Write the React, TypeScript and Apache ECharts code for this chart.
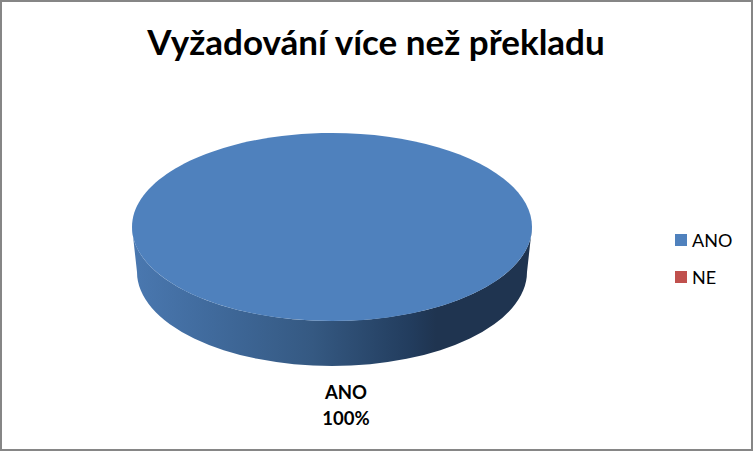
import React, { useEffect, useRef } from "react";
import * as echarts from "echarts";

const titleText = "Vyžadování více než překladu";
const categories = ["ANO", "NE"];
const values = [100, 0];
const colors = ["#4F81BD", "#C0504D"];
const FONT = "Lato, Carlito, sans-serif";

const cx = 332, cy = 227, rx = 200, ry = 94;
const bottomCy = 272, bottomRx = 195;

function renderSlice(index: number) {
  return (_params: any, api: any) => {
    const total = values.reduce((a, b) => a + b, 0);
    const share = Number(api.value(0)) / total;
    if (share <= 0) return { type: "group", children: [] };
    const percent = Math.round(share * 100) + "%";
    const wall =
      `M ${cx - rx} ${cy} L ${cx - bottomRx} ${bottomCy} ` +
      `A ${bottomRx} ${ry} 0 0 0 ${cx + bottomRx} ${bottomCy} ` +
      `L ${cx + rx} ${cy} A ${rx} ${ry} 0 0 1 ${cx - rx} ${cy} Z`;
    return {
      type: "group",
      children: [
        {
          type: "path",
          shape: { pathData: wall, x: cx - rx, y: cy, width: rx * 2, height: bottomCy + ry - cy },
          style: {
            fill: new echarts.graphic.LinearGradient(0, 0, 1, 0, [
              { offset: 0, color: "#4A78B0" },
              { offset: 0.2, color: "#406A9C" },
              { offset: 0.45, color: "#355982" },
              { offset: 0.7, color: "#223C5D" },
              { offset: 0.76, color: "#1F3450" },
              { offset: 1, color: "#1F3450" },
            ]),
          },
        },
        {
          type: "ellipse",
          shape: { cx, cy, rx, ry },
          style: { fill: colors[index] },
        },
        {
          type: "text",
          x: 346,
          y: 405,
          style: {
            text: `${categories[index]}\n${percent}`,
            fill: "#000000",
            font: `bold 18.5px ${FONT}`,
            lineHeight: 26,
            align: "center",
            verticalAlign: "middle",
          },
        },
      ],
    };
  };
}

export default function App() {
  const ref = useRef<HTMLDivElement>(null);
  useEffect(() => {
    document.body.style.margin = "0";
    const chart = echarts.init(ref.current!, undefined, { renderer: "svg" });
    chart.setOption({
      animation: false,
      backgroundColor: "#FFFFFF",
      title: {
        text: titleText,
        left: 371,
        top: 18,
        textAlign: "center",
        textStyle: { fontFamily: FONT, fontWeight: "bold", fontSize: 35, color: "#000000" },
      },
      legend: {
        data: categories,
        left: 670,
        top: 226,
        orient: "vertical",
        icon: "rect",
        itemWidth: 12,
        itemHeight: 12,
        itemGap: 19,
        selectedMode: false,
        textStyle: { fontFamily: FONT, fontSize: 18, color: "#000000" },
      },
      graphic: [
        {
          type: "rect",
          silent: true,
          z: 100,
          shape: { x: 1, y: 1, width: 751, height: 449 },
          style: { fill: "none", stroke: "#868686", lineWidth: 2 },
        },
      ],
      series: categories.map((name, i) => ({
        type: "custom",
        name,
        coordinateSystem: "none",
        itemStyle: { color: colors[i] },
        data: [[values[i]]],
        renderItem: renderSlice(i),
        silent: true,
      })),
    });
    return () => chart.dispose();
  }, []);
  return <div ref={ref} style={{ width: 753, height: 451 }} />;
}
